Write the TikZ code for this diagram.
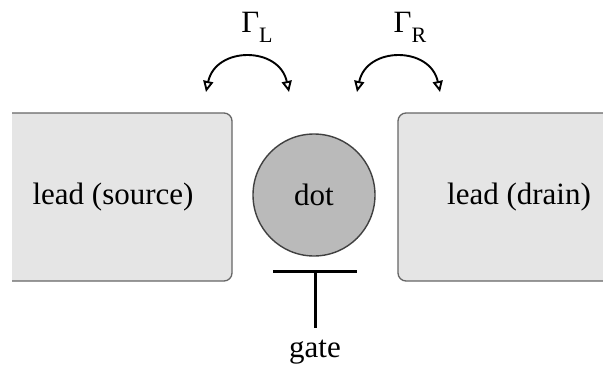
\documentclass[tikz,border=0pt]{standalone}
\usepackage{fontspec}
\setmainfont{Liberation Serif}
\usetikzlibrary{arrows.meta}
\tikzset{
  txt/.style={font=\rmfamily\fontsize{31}{36}\selectfont},
  lead/.style={txt, draw=black!60, line width=1.3pt, fill=black!10, rounded corners=8pt,
    minimum height=168pt, inner sep=0pt},
  dotnode/.style={txt, circle, draw=black!75, line width=1.4pt, fill=black!27,
    minimum size=122pt, inner sep=0pt},
  rate/.style={line width=1.9pt, {Triangle[open,length=11pt,width=10pt]}-{Triangle[open,length=11pt,width=10pt]}},
  gateline/.style={line width=3pt},
  lbl/.style={txt, inner sep=0pt},
}
\newcommand{\gsub}[1]{Γ\raisebox{-10pt}{\fontsize{22}{26}\selectfont #1}}
\begin{document}
\begin{tikzpicture}[x=1pt,y=-1pt]
  \useasboundingbox (0,0) rectangle (603,365);
  \clip (12,0) rectangle (603,365);

  % leads and quantum dot
  \node[lead, minimum width=238pt] (src) at (113,197) {lead (source)};
  \node[lead, minimum width=242pt] (drn) at (519,197) {lead (drain)};
  \node[dotnode] (dot) at (314,195) {dot};

  % tunnelling rates
  \coordinate (l1) at (206,92);
  \coordinate (l2) at (289,92);
  \coordinate (r1) at (357,92);
  \coordinate (r2) at (440,92);
  \draw[rate] (l1) to[out=78,in=102,looseness=1.45] (l2);
  \draw[rate] (r1) to[out=78,in=102,looseness=1.45] (r2);
  \node[lbl] (gl) at (257,27) {\gsub{L}};
  \node[lbl] (gr) at (410,27) {\gsub{R}};

  % gate electrode
  \coordinate (ga) at (273,271);
  \coordinate (gb) at (357,271);
  \coordinate (gm) at (315,271);
  \coordinate (gend) at (315,328);
  \draw[gateline] (ga) -- (gb);
  \draw[gateline] (gm) -- (gend);
  \node[lbl] (gate) at (315,352) {gate};
\end{tikzpicture}
\end{document}
